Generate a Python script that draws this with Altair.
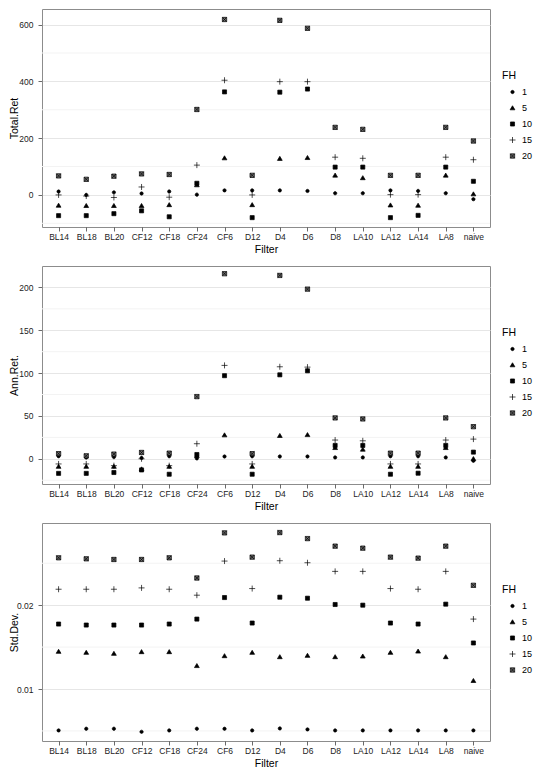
import altair as alt
import pandas as pd

filters = ["BL14", "BL18", "BL20", "CF12", "CF18", "CF24", "CF6", "D12",
           "D4", "D6", "D8", "LA10", "LA12", "LA14", "LA8", "naive"]
fh_levels = ["1", "5", "10", "15", "20"]

total_fh1 = [12, 0, 9, 5, 12, 1, 16, 16, 16, 14, 6, 6, 16, 14, 6, -15]
total_fh5 = [-37, -38, -38, -38, -35, 35, 130, -35, 128, 131, 69, 60, -36, -37, 69, 3]
total_fh10 = [-73, -73, -66, -56, -77, 41, 363, -80, 362, 373, 98, 98, -80, -72, 98, 48]
total_fh15 = [0, -4, -9, 28, -8, 105, 404, 0, 399, 399, 133, 129, 1, 1, 133, 124]
total_fh20 = [67, 55, 66, 74, 72, 301, 618, 69, 615, 587, 238, 231, 69, 69, 238, 190]

ann_fh1 = [3, 1.5, 2, 1, 3, 0.5, 2.7, 3, 2.7, 2.7, 1.6, 1.6, 3, 3, 1.6, -2.3]
ann_fh5 = [-9, -9, -9, -12, -9, 3.5, 27.7, -9, 27, 28, 12.9, 11, -9, -9, 12.9, 0]
ann_fh10 = [-17, -17, -16, -13, -18, 5, 97, -18, 98, 102.7, 15.6, 15.6, -18, -16.8, 15.6, 7.8]
ann_fh15 = [-6, -6, -8, 0, -8, 17.6, 109, -6, 107.4, 107, 21.9, 21, -6, -6, 21.9, 23]
ann_fh20 = [6, 3.5, 5.5, 7.4, 6.6, 72.6, 216, 6, 214, 198, 47.7, 46.5, 6.6, 6.6, 47.7, 37.5]

std_fh1 = [0.00506, 0.00526, 0.00526, 0.0049, 0.00506, 0.00526, 0.00526, 0.00506,
           0.0053, 0.00518, 0.00506, 0.00506, 0.00506, 0.00506, 0.00506, 0.00506]
std_fh5 = [0.01447, 0.01435, 0.01423, 0.01443, 0.01443, 0.01277, 0.01395, 0.01435,
           0.01383, 0.01399, 0.01383, 0.01391, 0.01435, 0.0145, 0.01383, 0.01099]
std_fh10 = [0.01775, 0.01763, 0.01763, 0.01763, 0.01775, 0.01834, 0.02091, 0.01787,
            0.02095, 0.02083, 0.02008, 0.02, 0.01787, 0.01775, 0.02012, 0.01549]
std_fh15 = [0.0219, 0.0219, 0.0219, 0.02206, 0.0219, 0.02119, 0.02526, 0.02198,
            0.0253, 0.02506, 0.02403, 0.02403, 0.02198, 0.0219, 0.02403, 0.01834]
std_fh20 = [0.02565, 0.02553, 0.02545, 0.02545, 0.02565, 0.02324, 0.02862, 0.02573,
            0.02866, 0.02794, 0.02704, 0.0268, 0.02573, 0.02561, 0.02704, 0.02237]

# y-axis settings per panel
total_domain = [-113, 655]
total_ticks = [0, 200, 400, 600]
total_minor = [-100, 100, 300, 500]
ann_domain = [-29.4, 225]
ann_ticks = [0, 50, 100, 150, 200]
ann_minor = [-25, 25, 75, 125, 175]
std_domain = [0.0038, 0.0298]
std_ticks = [0.01, 0.02]
std_minor = [0.005, 0.015, 0.025]

shape_paths = [
    "M-0.55,0A0.55,0.55,0,1,1,0.55,0A0.55,0.55,0,1,1,-0.55,0Z",
    "M0,-0.75L0.8,0.6L-0.8,0.6Z",
    "M-0.68,-0.68H0.68V0.68H-0.68Z",
    "M-1,0H1M0,-1V1",
    "M-0.72,-0.72H0.72V0.72H-0.72ZM-0.72,-0.72L0.72,0.72M-0.72,0.72L0.72,-0.72",
]
fill_range = ["black", "black", "black", "black", "#6e6e6e"]
stroke_range = ["black", "black", "black", "black", "black"]


def long_df(series):
    rows = []
    for fh, vals in zip(fh_levels, series):
        for f, v in zip(filters, vals):
            rows.append({"Filter": f, "FH": fh, "value": v})
    return pd.DataFrame(rows)


FONT = "Liberation Sans"


def panel(series, title, domain, ticks, minor, fmt):
    df = long_df(series)
    scale = alt.Scale(domain=domain, nice=False, zero=False)
    axis = alt.Axis(values=ticks, format=fmt, title=title, titleX=-28,
                    titleBaseline="middle", grid=True)
    legend = alt.Legend(title="FH", orient="none", legendX=460, legendY=62)
    grid = alt.Chart(pd.DataFrame({"value": minor})).mark_rule(
        color="#f3f3f3", strokeWidth=1
    ).encode(y=alt.Y("value:Q", scale=scale, axis=axis))
    pts = alt.Chart(df).mark_point(
        filled=True, size=36, strokeWidth=0.7, opacity=1
    ).encode(
        x=alt.X("Filter:N", sort=filters,
                scale=alt.Scale(type="point", padding=0.6),
                axis=alt.Axis(title="Filter", labelAngle=0)),
        y=alt.Y("value:Q", scale=scale, axis=axis),
        shape=alt.Shape("FH:N", sort=fh_levels,
                        scale=alt.Scale(domain=fh_levels, range=shape_paths),
                        legend=legend),
        fill=alt.Fill("FH:N", sort=fh_levels,
                      scale=alt.Scale(domain=fh_levels, range=fill_range),
                      legend=legend),
        stroke=alt.Stroke("FH:N", sort=fh_levels,
                          scale=alt.Scale(domain=fh_levels, range=stroke_range),
                          legend=legend),
    )
    return alt.layer(grid, pts).properties(width=448, height=218)


p1 = panel([total_fh1, total_fh5, total_fh10, total_fh15, total_fh20],
           "Total.Ret", total_domain, total_ticks, total_minor, "d")
p2 = panel([ann_fh1, ann_fh5, ann_fh10, ann_fh15, ann_fh20],
           "Ann.Ret.", ann_domain, ann_ticks, ann_minor, "d")
p3 = panel([std_fh1, std_fh5, std_fh10, std_fh15, std_fh20],
           "Std.Dev.", std_domain, std_ticks, std_minor, ".2f")

chart = alt.vconcat(p1, p2, p3, spacing=9).resolve_scale(
    y="independent", shape="independent", fill="independent", stroke="independent"
).properties(
    padding={"left": 0, "top": 0, "right": 0, "bottom": 0}
).configure(
    font=FONT
).configure_view(
    stroke="#8c8c8c", strokeWidth=1
).configure_axis(
    labelFont=FONT, labelFontSize=8.5, labelColor="#222222",
    titleFont=FONT, titleFontSize=10.5, titleFontWeight="normal", titleColor="black",
    gridColor="#e6e6e6", gridWidth=1, domain=False,
    tickColor="#444444", tickSize=4, tickWidth=0.8,
).configure_axisX(
    labelPadding=1, titlePadding=4,
).configure_axisY(
    labelPadding=5,
).configure_legend(
    titleFont=FONT, titleFontSize=10.5, titleFontWeight="normal", titleColor="black",
    labelFont=FONT, labelFontSize=9, labelColor="black",
    symbolSize=36, symbolStrokeWidth=0.7,
    symbolOffset=6, labelOffset=5, rowPadding=6, titlePadding=6,
)

chart.save("out.html", embed_options={"renderer": "svg", "actions": False})
